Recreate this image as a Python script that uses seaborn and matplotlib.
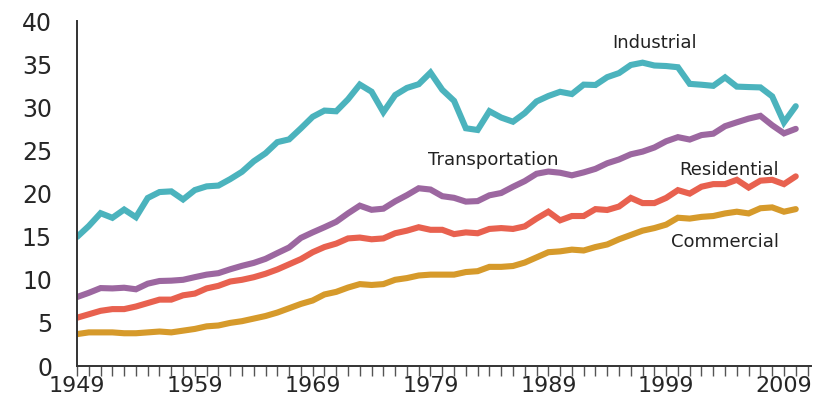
import pandas as pd
import matplotlib
matplotlib.use("Agg")
import matplotlib.pyplot as plt
import seaborn as sns

# ----------------------------
# Data: energy consumption by end-use sector (quadrillion Btu)
# ----------------------------
years = list(range(1949, 2011))

industrial = [14.97, 16.24, 17.73, 17.19, 18.15, 17.26, 19.49, 20.18, 20.26, 19.32,
              20.41, 20.84, 20.93, 21.68, 22.53, 23.75, 24.68, 25.97, 26.29, 27.57,
              28.91, 29.63, 29.55, 30.94, 32.65, 31.82, 29.45, 31.43, 32.26, 32.69,
              34.04, 32.04, 30.76, 27.58, 27.38, 29.56, 28.82, 28.34, 29.34, 30.69,
              31.32, 31.81, 31.55, 32.64, 32.60, 33.51, 33.98, 34.92, 35.19, 34.86,
              34.80, 34.66, 32.73, 32.63, 32.50, 33.48, 32.41, 32.36, 32.32, 31.28,
              28.26, 30.14]

transportation = [8.00, 8.49, 9.04, 9.00, 9.08, 8.90, 9.55, 9.86, 9.90, 10.00,
                  10.31, 10.60, 10.77, 11.22, 11.62, 11.96, 12.43, 13.10, 13.75, 14.86,
                  15.50, 16.10, 16.73, 17.71, 18.60, 18.12, 18.25, 19.10, 19.82, 20.62,
                  20.47, 19.70, 19.51, 19.07, 19.13, 19.80, 20.07, 20.79, 21.45, 22.30,
                  22.56, 22.42, 22.12, 22.46, 22.87, 23.52, 23.96, 24.56, 24.87, 25.35,
                  26.07, 26.55, 26.27, 26.79, 26.95, 27.82, 28.27, 28.70, 29.02, 27.93,
                  26.99, 27.51]

residential = [5.6, 6.0, 6.4, 6.6, 6.6, 6.9, 7.3, 7.7, 7.7, 8.2,
               8.4, 9.0, 9.3, 9.8, 10.0, 10.3, 10.7, 11.2, 11.8, 12.4,
               13.2, 13.8, 14.2, 14.8, 14.9, 14.7, 14.8, 15.4, 15.7, 16.1,
               15.8, 15.8, 15.3, 15.5, 15.4, 15.9, 16.0, 15.9, 16.2, 17.1,
               17.9, 16.9, 17.4, 17.4, 18.2, 18.1, 18.5, 19.5, 18.9, 18.9,
               19.5, 20.4, 20.0, 20.8, 21.1, 21.1, 21.6, 20.7, 21.5, 21.6,
               21.1, 22.0]

commercial = [3.7, 3.9, 3.9, 3.9, 3.8, 3.8, 3.9, 4.0, 3.9, 4.1,
              4.3, 4.6, 4.7, 5.0, 5.2, 5.5, 5.8, 6.2, 6.7, 7.2,
              7.6, 8.3, 8.6, 9.1, 9.5, 9.4, 9.5, 10.0, 10.2, 10.5,
              10.6, 10.6, 10.6, 10.9, 11.0, 11.5, 11.5, 11.6, 12.0, 12.6,
              13.2, 13.3, 13.5, 13.4, 13.8, 14.1, 14.7, 15.2, 15.7, 16.0,
              16.4, 17.2, 17.1, 17.3, 17.4, 17.7, 17.9, 17.7, 18.3, 18.4,
              17.9, 18.2]

sectors = ["Industrial", "Transportation", "Residential", "Commercial"]
colors = ["#4bb3bd", "#9c67a0", "#e8614f", "#d69a2b"]

# label positions (year, value)
label_pos = {
    "Industrial": (1998.0, 37.5),
    "Transportation": (1984.3, 23.9),
    "Residential": (2004.3, 22.7),
    "Commercial": (2004.0, 14.4),
}

# ----------------------------
# Build long-form table
# ----------------------------
df = pd.DataFrame({
    "Year": years * 4,
    "Sector": sum([[s] * len(years) for s in sectors], []),
    "Value": industrial + transportation + residential + commercial,
})

# ----------------------------
# Plot
# ----------------------------
sns.set_style("white")
plt.rcParams["font.family"] = ["DejaVu Sans"]

fig = plt.figure(figsize=(8.22, 4.0), dpi=100)
ax = fig.add_axes([0.0937, 0.085, 0.893, 0.862])

sns.lineplot(data=df, x="Year", y="Value", hue="Sector", hue_order=sectors,
             palette=colors, linewidth=4.4, legend=False, ax=ax,
             solid_joinstyle="miter")

for s in sectors:
    x, y = label_pos[s]
    ax.text(x, y, s, ha="center", va="center", fontsize=13, color="#222222")

ax.set_xlim(1949, 2011.3)
ax.set_ylim(0, 40)
ax.set_xticks(range(1949, 2012, 10))
ax.set_xticks(range(1949, 2012), minor=True)
ax.set_yticks(range(0, 41, 5))
ax.set_xlabel("")
ax.set_ylabel("")

sns.despine(ax=ax, top=True, right=True)
for sp in ["left", "bottom"]:
    ax.spines[sp].set_color("#333333")
    ax.spines[sp].set_linewidth(1.4)

ax.tick_params(axis="y", which="major", direction="out", length=14, width=1.0,
               color="#555555", labelsize=17, pad=4)
ax.tick_params(axis="x", which="both", direction="out", length=7, width=1.0,
               color="#555555", bottom=True)
ax.tick_params(axis="x", which="major", labelsize=16, pad=0)

plt.savefig("out.png", dpi=100)
